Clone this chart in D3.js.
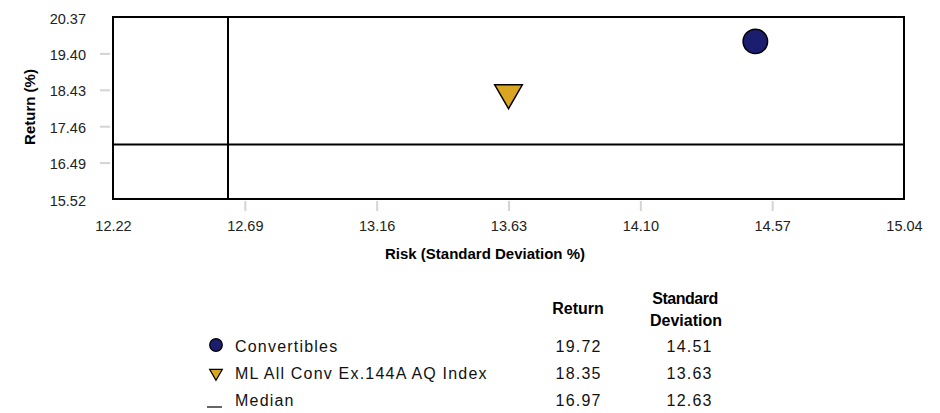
<!DOCTYPE html>
<html>
<head>
<meta charset="utf-8">
<script src="https://cdn.jsdelivr.net/npm/d3@7"></script>
<style>
  html, body { margin: 0; padding: 0; background: #fff; }
  svg { display: block; font-family: "Liberation Sans", Arial, sans-serif; }
</style>
</head>
<body>
<svg id="chart" width="940" height="413"></svg>
<script>
// Risk / return data
const seriesNames = ["Convertibles", "ML All Conv Ex.144A AQ Index", "Median"];
const returns = [19.72, 18.35, 16.97];
const stdDevs = [14.51, 13.63, 12.63];
const shapes = ["circle", "triangle", "line"];
const colors = ["#1b1d6e", "#daa520", "#000"];

const xTicks = [12.22, 12.69, 13.16, 13.63, 14.10, 14.57, 15.04];
const yTicks = [15.52, 16.49, 17.46, 18.43, 19.40, 20.37];

const svg = d3.select("#chart");
const plot = { left: 113, top: 17, right: 904, bottom: 199 };

const x = d3.scaleLinear().domain([xTicks[0], xTicks[xTicks.length - 1]]).range([plot.left, plot.right]);
const y = d3.scaleLinear().domain([yTicks[0], yTicks[yTicks.length - 1]]).range([plot.bottom, plot.top]);

// Axes: short grey ticks outside the frame, no domain line
const yAxis = d3.axisLeft(y).tickValues(yTicks).tickFormat(d3.format(".2f")).tickSize(10).tickPadding(14);
const gy = svg.append("g").attr("transform", `translate(${plot.left - 3},0)`).call(yAxis);
const xAxis = d3.axisBottom(x).tickValues(xTicks).tickFormat(d3.format(".2f")).tickSize(10).tickPadding(10);
const gx = svg.append("g").attr("transform", `translate(0,${plot.bottom + 2})`).call(xAxis);
[gx, gy].forEach(g => {
  g.select(".domain").remove();
  g.selectAll(".tick line").attr("stroke", "#d4d4d4").attr("stroke-width", 2);
  g.selectAll(".tick text").attr("fill", "#222").style("font-size", "14.5px");
});
gy.selectAll(".tick text").attr("dy", "0.42em");
// end ticks sit on the frame corners and are not drawn
gy.selectAll(".tick line").filter(d => d === yTicks[0] || d === yTicks[yTicks.length - 1]).remove();
gx.selectAll(".tick line").filter(d => d === xTicks[0] || d === xTicks[xTicks.length - 1]).remove();

// Frame
svg.append("rect")
  .attr("x", plot.left).attr("y", plot.top)
  .attr("width", plot.right - plot.left).attr("height", plot.bottom - plot.top)
  .attr("fill", "none").attr("stroke", "#000").attr("stroke-width", 2);

// Median cross-hair
const mi = 2;
svg.append("line")
  .attr("x1", x(stdDevs[mi])).attr("x2", x(stdDevs[mi]))
  .attr("y1", plot.top).attr("y2", plot.bottom)
  .attr("stroke", "#000").attr("stroke-width", 2);
svg.append("line")
  .attr("x1", plot.left).attr("x2", plot.right)
  .attr("y1", y(returns[mi])).attr("y2", y(returns[mi]))
  .attr("stroke", "#000").attr("stroke-width", 2);

function symbolPath(shape, size) {
  if (shape === "circle") return d3.symbol(d3.symbolCircle, size)();
  return d3.symbol(d3.symbolTriangle, size)();
}

// Markers
const points = seriesNames.map((n, i) => ({ name: n, ret: returns[i], sd: stdDevs[i], shape: shapes[i], color: colors[i] }))
  .filter(d => d.shape !== "line");
svg.selectAll(".marker").data(points).enter().append("path")
  .attr("class", "marker")
  .attr("d", d => d.shape === "circle" ? symbolPath("circle", 470) : symbolPath("triangle", 330))
  .attr("transform", d => `translate(${x(d.sd)},${y(d.ret)})` + (d.shape === "triangle" ? " rotate(180)" : ""))
  .attr("fill", d => d.color)
  .attr("stroke", "#000").attr("stroke-width", 1.5);

// Axis titles
svg.append("text")
  .attr("x", 485).attr("y", 259)
  .attr("text-anchor", "middle").style("font-size", "15px").style("font-weight", "bold")
  .attr("fill", "#000").text("Risk (Standard Deviation %)");
svg.append("text")
  .attr("transform", "translate(35,107) rotate(-90)")
  .attr("text-anchor", "middle").style("font-size", "15px").style("font-weight", "bold")
  .attr("fill", "#000").text("Return (%)");

// Legend table
const colRet = 578, colSd = 689;
const hdr = svg.append("g").style("font-size", "16px").style("font-weight", "bold").attr("fill", "#000").attr("text-anchor", "middle");
hdr.append("text").attr("x", colRet).attr("y", 314).text("Return");
hdr.append("text").attr("x", colSd - 4).attr("y", 304).style("letter-spacing", "-0.5px").text("Standard");
hdr.append("text").attr("x", colSd - 3).attr("y", 326).text("Deviation");

const rowY = [345, 372, 399];
const rows = svg.selectAll(".row").data(seriesNames.map((n, i) => ({ name: n, ret: returns[i], sd: stdDevs[i], shape: shapes[i], color: colors[i], y: rowY[i] })))
  .enter().append("g").attr("class", "row");
rows.each(function(d) {
  const g = d3.select(this);
  if (d.shape === "line") {
    g.append("line").attr("x1", 207).attr("x2", 222).attr("y1", d.y + 8).attr("y2", d.y + 8)
      .attr("stroke", "#000").attr("stroke-width", 1.2);
  } else {
    g.append("path")
      .attr("d", d.shape === "circle" ? symbolPath("circle", 125) : symbolPath("triangle", 70))
      .attr("transform", `translate(216,${d.y + (d.shape === "triangle" ? 1 : 0)})` + (d.shape === "triangle" ? " rotate(180)" : ""))
      .attr("fill", d.color).attr("stroke", "#000").attr("stroke-width", 1.2);
  }
  const t = g.append("g").style("font-size", "16px").style("letter-spacing", "1.2px").attr("fill", "#111");
  t.append("text").attr("x", 235).attr("y", d.y + 6.5).text(d.name);
  t.append("text").attr("x", colRet + 0.6).attr("y", d.y + 6.5).attr("text-anchor", "middle").text(d.ret.toFixed(2));
  t.append("text").attr("x", colSd + 0.6).attr("y", d.y + 6.5).attr("text-anchor", "middle").text(d.sd.toFixed(2));
});
</script>
</body>
</html>
